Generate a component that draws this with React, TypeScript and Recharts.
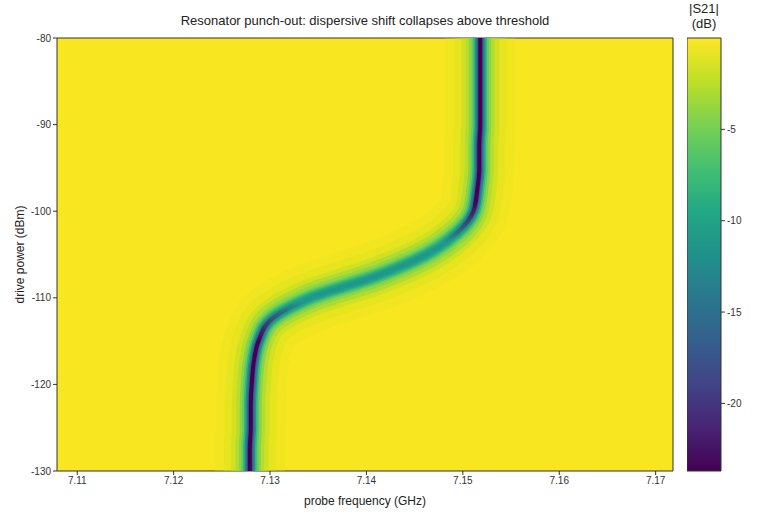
import React from "react";
import {
  ComposedChart,
  Line,
  XAxis,
  YAxis,
  ReferenceArea,
  Label,
} from "recharts";

// drive power rows (dBm) and the resonance frequency (GHz)
const POWER = [
  -130, -127.5, -125, -122.5, -120, -117.5, -115, -112.5, -110, -107.5, -105,
  -102.5, -100, -97.5, -95, -92.5, -90, -85, -80,
];
const RES_FREQ = [
  7.1279, 7.1279, 7.128, 7.128, 7.1281, 7.1283, 7.1288, 7.1301, 7.1342, 7.141,
  7.1462, 7.1494, 7.1511, 7.1515, 7.1517, 7.1517, 7.1518, 7.1518, 7.1518,
];

const FREQ_TICKS = [7.11, 7.12, 7.13, 7.14, 7.15, 7.16, 7.17];
const POWER_TICKS = [-130, -120, -110, -100, -90, -80];
const CBAR_TICKS = [-20, -15, -10, -5];
const CBAR_MIN = -23.7;
const CBAR_MAX = 0;

const VIRIDIS = [
  "#440154", "#482475", "#414487", "#355f8d", "#2a788e", "#21918c",
  "#22a884", "#44bf70", "#7ad151", "#bddf26", "#fde725",
];

const data = POWER.map((p, i) => ({ power: p, f: RES_FREQ[i] }));
// rows where the dip is shallow and broad (crossover region)
const midData = data.filter((d) => d.power >= -116 && d.power <= -97.5);

const FONT = '"Liberation Sans", Arial, sans-serif';
const BG = "#f8e621";

// blurred dip built from stacked strokes, wide/pale outside, narrow/dark inside
// each layer: width, colour at the deep ends, colour in the crossover, opacity
const layers: { id: string; width: number; end: string; mid: string; a: number }[] = [
  { id: "l0", width: 70, end: "#e2e41c", mid: "#e2e41c", a: 0.3 },
  { id: "l1", width: 52, end: "#d2e21b", mid: "#d2e21b", a: 0.35 },
  { id: "l2", width: 38, end: "#bddf26", mid: "#bddf26", a: 0.5 },
  { id: "l3", width: 29, end: "#a2da37", mid: "#a2da37", a: 0.6 },
  { id: "l4", width: 22, end: "#7ad151", mid: "#86d549", a: 0.75 },
  { id: "l5", width: 17, end: "#5ec962", mid: "#6ccd5a", a: 0.9 },
  { id: "l6", width: 13.5, end: "#35b779", mid: "#4ac16d", a: 1 },
  { id: "l7", width: 10.5, end: "#21918c", mid: "#2db27d", a: 1 },
  { id: "l8", width: 8, end: "#2a788e", mid: "#22a884", a: 1 },
  { id: "l9", width: 6, end: "#3b528b", mid: "#1fa088", a: 1 },
  { id: "l10", width: 4, end: "#440154", mid: "#21968b", a: 1 },
];
// where the crossover starts/ends along the stroke (0 = -80 dBm, 1 = -130 dBm)
const SHIFT = [0.38, 0.47, 0.61, 0.7];

const tickStyle = { fontSize: 10, fill: "#333", fontFamily: FONT };

export default function App() {
  return (
    <div style={{ position: "absolute", left: 0, top: 0, width: 760, height: 520, background: "#fff", fontFamily: FONT }}>
      <div style={{ position: "absolute", left: 57, width: 616, top: 13, textAlign: "center", fontSize: 13, color: "#222" }}>
        Resonator punch-out: dispersive shift collapses above threshold
      </div>
      <div style={{ position: "absolute", left: 664, width: 80, top: 1, textAlign: "center", fontSize: 13, lineHeight: "15px", color: "#222" }}>
        |S21|
        <br />
        (dB)
      </div>

      <div style={{ position: "absolute", left: 0, top: 0 }}>
        <ComposedChart
          layout="vertical"
          width={760}
          height={520}
          data={data}
          margin={{ top: 38, right: 87, bottom: 15, left: 12 }}
        >
          <defs>
            {layers.map((l) => (
              <linearGradient key={l.id} id={l.id} x1="0" y1="0" x2="0" y2="1">
                <stop offset={0} stopColor={l.end} stopOpacity={l.a} />
                <stop offset={SHIFT[0]} stopColor={l.end} stopOpacity={l.a} />
                <stop offset={SHIFT[1]} stopColor={l.mid} stopOpacity={l.a} />
                <stop offset={SHIFT[2]} stopColor={l.mid} stopOpacity={l.a} />
                <stop offset={SHIFT[3]} stopColor={l.end} stopOpacity={l.a} />
                <stop offset={1} stopColor={l.end} stopOpacity={l.a} />
              </linearGradient>
            ))}
            <linearGradient id="halo" x1="0" y1="0" x2="0" y2="1">
              <stop offset={0} stopColor="#a2da37" stopOpacity={0} />
              <stop offset={0.35} stopColor="#a2da37" stopOpacity={0.45} />
              <stop offset={0.7} stopColor="#a2da37" stopOpacity={0.45} />
              <stop offset={1} stopColor="#a2da37" stopOpacity={0} />
            </linearGradient>
          </defs>
          <XAxis
            type="number"
            dataKey="f"
            domain={[7.1079, 7.1718]}
            ticks={FREQ_TICKS}
            tickFormatter={(v: number) => v.toFixed(2)}
            allowDataOverflow
            height={34}
            tick={tickStyle}
            tickSize={4}
            tickLine={{ stroke: "#333" }}
            axisLine={false}
          >
            <Label value="probe frequency (GHz)" position="insideBottom" offset={0} style={{ fontSize: 12, fill: "#222", fontFamily: FONT }} />
          </XAxis>
          <YAxis
            type="number"
            dataKey="power"
            domain={[-130, -80]}
            ticks={POWER_TICKS}
            allowDataOverflow
            reversed
            width={45}
            tick={tickStyle}
            tickSize={4}
            tickLine={{ stroke: "#333" }}
            axisLine={false}
          >
            <Label value="drive power (dBm)" angle={-90} position="insideLeft" offset={8} style={{ fontSize: 12, fill: "#222", fontFamily: FONT, textAnchor: "middle" }} />
          </YAxis>
          <ReferenceArea x1={7.1079} x2={7.1718} y1={-130} y2={-80} fill={BG} fillOpacity={1} stroke="none" />
          {layers.slice(0, 3).map((l) => (
            <Line
              key={l.id}
              type="monotone"
              dataKey="f"
              stroke={`url(#${l.id})`}
              strokeWidth={l.width}
              dot={false}
              activeDot={false}
              isAnimationActive={false}
            />
          ))}
          <Line
            data={midData}
            type="monotone"
            dataKey="f"
            stroke="url(#halo)"
            strokeWidth={30}
            dot={false}
            activeDot={false}
            isAnimationActive={false}
          />
          {layers.slice(3).map((l) => (
            <Line
              key={l.id}
              type="monotone"
              dataKey="f"
              stroke={`url(#${l.id})`}
              strokeWidth={l.width}
              dot={false}
              activeDot={false}
              isAnimationActive={false}
            />
          ))}
          <ReferenceArea x1={7.1079} x2={7.1718} y1={-130} y2={-80} fill="none" stroke="#333" strokeWidth={1} />
        </ComposedChart>
      </div>

      <div style={{ position: "absolute", left: 687, top: 0 }}>
        <ComposedChart
          width={73}
          height={520}
          data={CBAR_TICKS.map((v) => ({ v, x: 0.5 }))}
          margin={{ top: 38, right: 0, bottom: 49, left: 0 }}
        >
          <defs>
            <linearGradient id="viridisBar" x1="0" y1="1" x2="0" y2="0">
              {VIRIDIS.map((c, i) => (
                <stop key={i} offset={i / (VIRIDIS.length - 1)} stopColor={c} />
              ))}
            </linearGradient>
          </defs>
          <XAxis type="number" dataKey="x" domain={[0, 1]} hide />
          <YAxis
            type="number"
            dataKey="v"
            orientation="right"
            domain={[CBAR_MIN, CBAR_MAX]}
            ticks={CBAR_TICKS}
            allowDataOverflow
            width={39}
            tick={tickStyle}
            tickSize={4}
            tickLine={{ stroke: "#333" }}
            axisLine={false}
          />
          <ReferenceArea x1={0} x2={1} y1={CBAR_MIN} y2={CBAR_MAX} fill="url(#viridisBar)" fillOpacity={1} stroke="#333" strokeWidth={1} />
        </ComposedChart>
      </div>
    </div>
  );
}
